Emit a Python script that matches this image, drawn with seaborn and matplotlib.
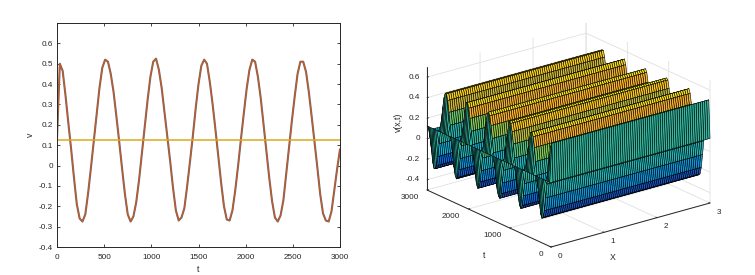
import numpy as np
import matplotlib
matplotlib.use("Agg")
import matplotlib.pyplot as plt
from matplotlib.colors import LinearSegmentedColormap, Normalize
from mpl_toolkits.mplot3d import proj3d
import seaborn as sns

t_values = list(range(0, 3001, 30))
v_wave = [.13, .50, .465, .345, .21, .08, -.06, -.19, -.26, -.275, -.24, -.135, -.01, .12, .25, .38,
          .48, .52, .51, .45, .36, .24, .115, -.015, -.14, -.24, -.275, -.25, -.18, -.07, .06, .19,
          .32, .435, .51, .525, .47, .38, .26, .14, .02, -.11, -.22, -.27, -.255, -.21, -.10, .02,
          .145, .28, .40, .49, .52, .50, .41, .30, .175, .045, -.085, -.20, -.265, -.27, -.22, -.12,
          .00, .13, .255, .375, .47, .52, .51, .435, .33, .20, .07, -.06, -.175, -.255, -.275, -.245,
          -.17, -.04, .09, .22, .34, .45, .51, .51, .46, .36, .24, .115, -.01, -.14, -.235, -.27,
          -.275, -.225, -.12, -.015, .08]
v_boundary = [.125] * len(t_values)
x_values = [i * 0.04 for i in range(76)]
x_ticks = [0, 1, 2, 3]
t_ticks_3d = [0, 1000, 2000, 3000]
z_ticks = [-.4, -.2, 0, .2, .4, .6]
z_labels = ["-0.4", "-0.2", "0", "0.2", "0.4", "0.6"]
y_ticks = [-.4, -.3, -.2, -.1, 0, .1, .2, .3, .4, .5, .6]
y_labels = ["-0.4", "-0.3", "-0.2", "-0.1", "0", "0.1", "0.2", "0.3", "0.4", "0.5", "0.6"]
t_ticks = [0, 500, 1000, 1500, 2000, 2500, 3000]
parula = [(.2081, .1663, .5292), (.0165, .4266, .8786), (.0689, .6948, .8394), (.1801, .7177, .6424),
          (.5044, .7993, .348), (1.0, .68, .16), (.9763, .9831, .0538)]

sns.set_theme(style="ticks")
plt.rcParams["font.family"] = ["Liberation Sans", "DejaVu Sans"]
W, H = 755, 275
ink = "#262626"
fs = 5.9
fig = plt.figure(figsize=(W / 100, H / 100), dpi=100, facecolor="white")

# left panel
ax = fig.add_axes([57 / W, 1 - 247 / H, 283 / W, 224 / H])
sns.lineplot(x=t_values, y=v_wave, color="#6e6e6e", lw=1.5, ax=ax, errorbar=None, estimator=None)
sns.lineplot(x=t_values, y=v_wave, color="#D95319", lw=0.7, ax=ax, errorbar=None, estimator=None)
sns.lineplot(x=t_values, y=v_boundary, color="#DDA820", lw=1.1, ax=ax, errorbar=None, estimator=None)
ax.set_xlim(0, 3000)
ax.set_ylim(-.4, .7)
ax.set_xticks(t_ticks)
ax.set_yticks(y_ticks)
ax.set_yticklabels(y_labels)
ax.tick_params(direction="in", length=2.5, width=.6, labelsize=fs, colors=ink, top=True, right=True)
ax.tick_params(axis="x", pad=5)
ax.tick_params(axis="y", pad=3)
for s in ax.spines.values():
    s.set_linewidth(.7)
    s.set_color(ink)
ax.set_xlabel("t", fontsize=fs + .4, color=ink, labelpad=3)
ax.set_ylabel("v", fontsize=fs + .4, color=ink, labelpad=3)

# right panel
cmap = LinearSegmentedColormap.from_list("parula", parula)
norm = Normalize(min(v_wave), max(v_wave))
X, T = np.meshgrid(np.array(x_values), np.array(t_values))
Z = np.tile(np.array(v_wave)[:, None], (1, len(x_values)))
Z[:, 0] = v_boundary

a3 = fig.add_axes([430 / W, 0, H / W, 1], projection="3d", proj_type="ortho", computed_zorder=False)
a3.patch.set_alpha(0)
# one strip per time step, painted from the far end to the near end
nrows = Z.shape[0] - 1
for i in range(nrows - 1, -1, -1):
    sX, sT, sZ = X[i:i + 2], T[i:i + 2], Z[i:i + 2]
    strip = a3.plot_surface(sX, sT, sZ, facecolors=cmap(norm(sZ)), edgecolor="black", linewidth=.4, shade=False,
                            rcount=2, ccount=sZ.shape[1], antialiased=True, zorder=10 + (nrows - i))
    strip.set_clip_on(False)
a3.set_xlim(0, 3)
a3.set_ylim(0, 3000)
a3.set_zlim(-.5, .7)
a3.view_init(elev=20.9, azim=-127.8)
a3.set_xticks(x_ticks)
a3.set_yticks(t_ticks_3d)
a3.set_zticks(z_ticks)
a3.set_xticklabels([""] * len(x_ticks))
a3.set_yticklabels([""] * len(t_ticks_3d))
a3.set_zticklabels([""] * len(z_ticks))
for axis in (a3.xaxis, a3.yaxis, a3.zaxis):
    axis.set_pane_color((1, 1, 1, 0))
    axis.pane.set_edgecolor((1, 1, 1, 0))
    axis._axinfo["grid"].update(color="#e0e0e0", linewidth=.6)
    axis._axinfo["tick"].update(inward_factor=.0, outward_factor=.12, linewidth={True: .6, False: .4})
    axis.line.set_color(ink)
    axis.line.set_linewidth(.7)
a3.zaxis.set_ticks_position("upper")
fig.text(613 / W, 1 - 258 / H, "X", fontsize=fs + .4, color=ink, ha="center", va="center")
fig.text(484 / W, 1 - 256 / H, "t", fontsize=fs + .4, color=ink, ha="center", va="center")
fig.text(398 / W, 1 - 122 / H, "v(x,t)", fontsize=fs + .4, color=ink, ha="center", va="center", rotation=90)


def corner(x, y, z):
    px, py, _ = proj3d.proj_transform(x, y, z, a3.get_proj())
    return a3.transData.transform((px, py))


# fit the cube to the reference's frame: front corner and right corner
zoom = 1.0
a3.set_box_aspect((201, 202, 131.6), zoom=zoom)
fig.canvas.draw()
p0, p1 = corner(0, 0, -.5), corner(3, 0, -.5)
zoom *= 159 / (p1[0] - p0[0])
a3.set_box_aspect((201, 202, 131.6), zoom=zoom)
fig.canvas.draw()
p0 = corner(0, 0, -.5)
dx, dy = 551 - p0[0], (H - 247) - p0[1]
pos = a3.get_position()
a3.set_position([pos.x0 + dx / W, pos.y0 + dy / H, pos.width, pos.height])
fig.canvas.draw()


def tick_label(point, text, off_x, off_y, ha):
    fig.text((point[0] + off_x) / W, (point[1] + off_y) / H, text, fontsize=fs, color=ink, ha=ha, va="center")


for v in x_ticks:
    tick_label(corner(v, 0, -.5), str(v), 9, -9, "center")
for v in t_ticks_3d:
    tick_label(corner(0, v, -.5), str(v), -8, -8, "right")
for v, s in zip(z_ticks, z_labels):
    tick_label(corner(0, 3000, v), s, -7, 0, "right")

fig.savefig("out.png", dpi=100)
